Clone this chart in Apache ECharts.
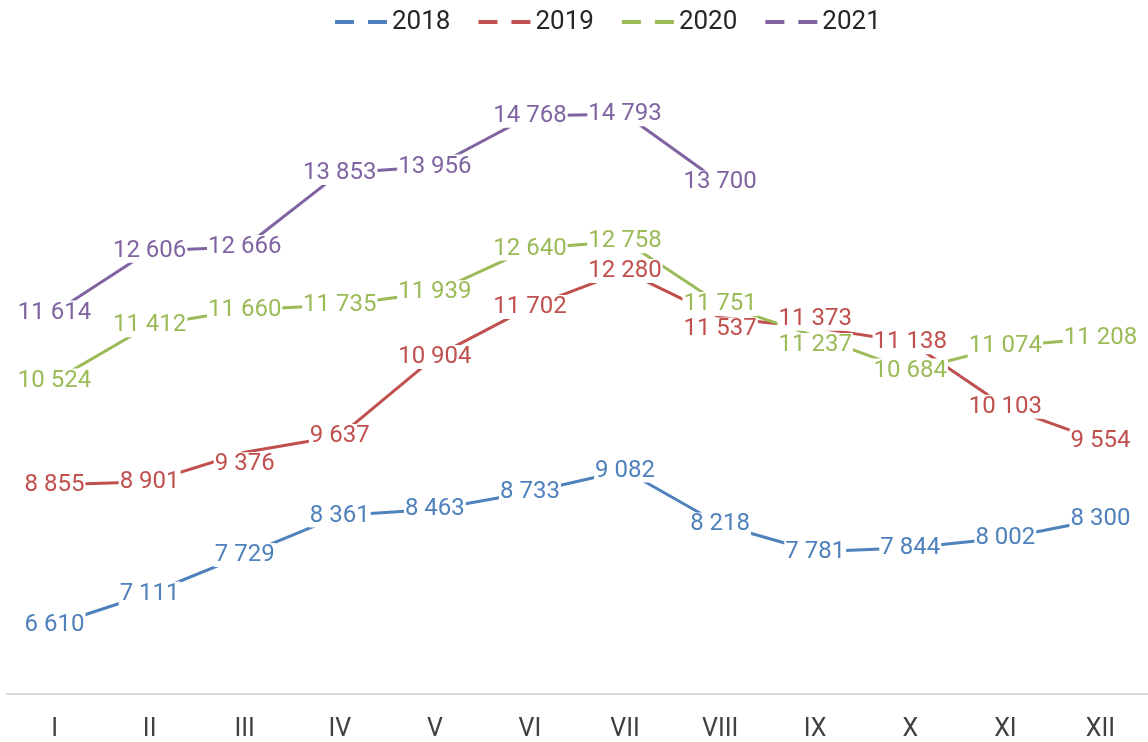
<!DOCTYPE html>
<html>
<head>
    <meta charset="utf-8">
    <title>2018-2021</title>
    <script src="https://cdn.jsdelivr.net/npm/echarts@6/dist/echarts.min.js"></script>
    <style>
        html, body { margin: 0; padding: 0; background: #fff; }
        #main { width: 1148px; height: 742px; }
    </style>
</head>
<body>
<div id="main"></div>
<script>
    var months = ['I', 'II', 'III', 'IV', 'V', 'VI', 'VII', 'VIII', 'IX', 'X', 'XI', 'XII'];
    var years = ['2018', '2019', '2020', '2021'];
    var v2018 = [6610, 7111, 7729, 8361, 8463, 8733, 9082, 8218, 7781, 7844, 8002, 8300];
    var v2019 = [8855, 8901, 9376, 9637, 10904, 11702, 12280, 11537, 11373, 11138, 10103, 9554];
    var v2020 = [10524, 11412, 11660, 11735, 11939, 12640, 12758, 11751, 11237, 10684, 11074, 11208];
    var v2021 = [11614, 12606, 12666, 13853, 13956, 14768, 14793, 13700];
    var colors = ['#4f81bd', '#c0504d', '#9bbb59', '#8064a2'];

    // подписи, сдвинутые вручную (как в исходнике), px по вертикали
    var labelShift = {
        '2019': { 2: 12, 7: 12, 8: -9 },
        '2020': { 8: 9 }
    };

    // 6 610 -> пробел как разделитель тысяч
    function fmt(p) {
        return String(p.value).replace(/\B(?=(\d{3})+(?!\d))/g, ' ');
    }

    var allData = [v2018, v2019, v2020, v2021];
    var series = [];
    for (var i = 0; i < years.length; i++) {
        var shifts = labelShift[years[i]] || {};
        var data = allData[i].map(function (v, k) {
            if (shifts[k] === undefined) return v;
            return { value: v, label: { offset: [0, shifts[k]] } };
        });
        series.push({
            name: years[i],
            type: 'line',
            data: data,
            symbol: 'circle',
            symbolSize: 0,
            showSymbol: true,
            lineStyle: { width: 3, color: colors[i] },
            itemStyle: { color: colors[i] },
            label: {
                show: true,
                position: 'inside',
                formatter: fmt,
                color: colors[i],
                fontFamily: 'Roboto',
                fontSize: 24,
                backgroundColor: '#fff',
                padding: [0, 1]
            }
        });
    }

    var myChart = echarts.init(document.getElementById('main'));
    var option = {
        animation: false,
        color: colors,
        legend: {
            top: 9,
            left: 335,
            padding: 0,
            itemWidth: 52,
            itemHeight: 4,
            itemGap: 28,
            icon: 'path://M0,0H19V4H0Z M33,0H52V4H33Z',
            textStyle: { fontFamily: 'Roboto', fontSize: 26, color: '#262626' },
            data: years
        },
        grid: { left: 7, right: -4, top: 39, bottom: 45 },
        xAxis: {
            type: 'category',
            data: months,
            boundaryGap: true,
            axisLine: { lineStyle: { color: '#d9d9d9', width: 2 } },
            axisTick: { show: false },
            axisLabel: { margin: 23, fontFamily: 'Roboto', fontSize: 25, color: '#404040' }
        },
        yAxis: {
            type: 'value',
            min: 5500,
            max: 16000,
            show: false,
            splitLine: { show: false }
        },
        series: series
    };
    myChart.setOption(option);
</script>
</body>
</html>
